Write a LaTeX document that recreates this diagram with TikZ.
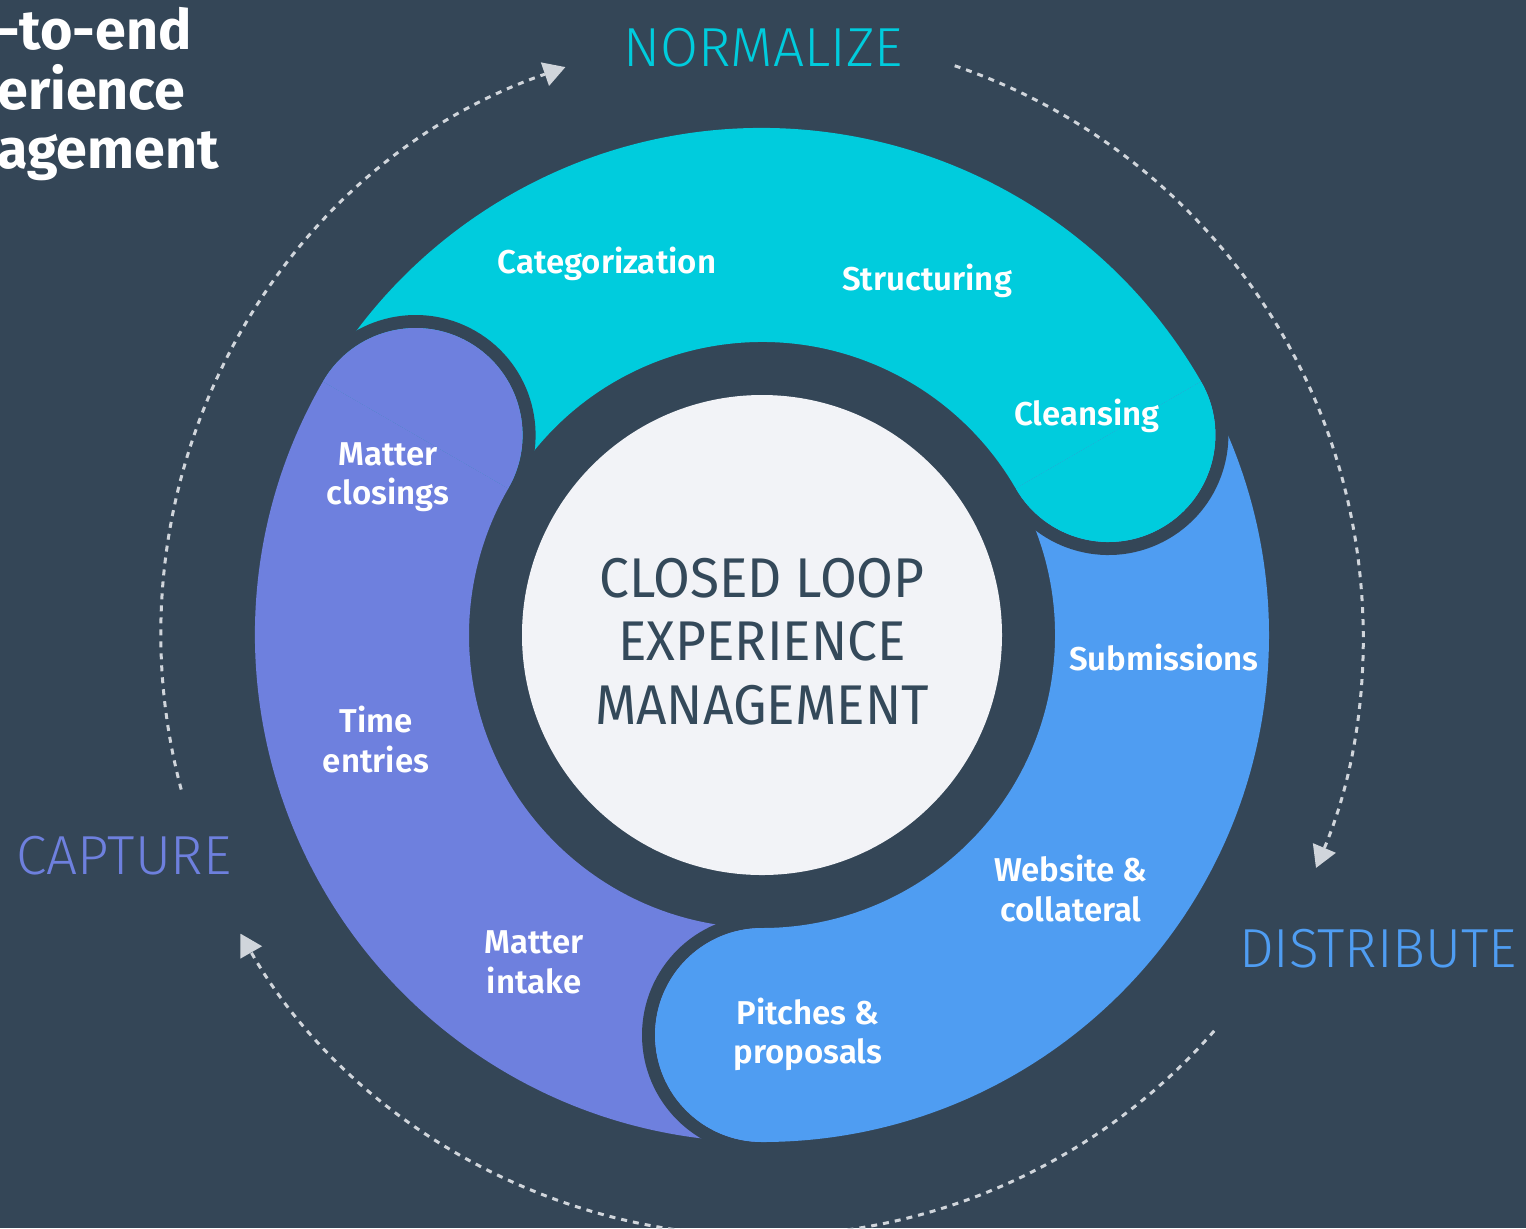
\documentclass[tikz,border=0pt]{standalone}
\usepackage{fontspec}
\setmainfont{Fira Sans}
\newfontfamily\lightf{Fira Sans Light}
\newfontfamily\semif{Fira Sans SemiBold}
\newfontfamily\ctrf{Fira Sans}[FakeStretch=0.95]
\usetikzlibrary{arrows.meta}
\definecolor{bg}{HTML}{344657}
\definecolor{tealc}{HTML}{00CCDD}
\definecolor{purplec}{HTML}{6E80DE}
\definecolor{bluec}{HTML}{4F9DF2}
\definecolor{innerc}{HTML}{F2F3F7}
\definecolor{ctxt}{HTML}{34495A}
\definecolor{dashc}{HTML}{D0D5DB}
\tikzset{
  lbl/.style={text=white, font=\semif\fontsize{16.5}{20}\selectfont, inner sep=0pt, anchor=base},
  stage/.style={font=\lightf\fontsize{27.5}{33}\selectfont, inner sep=0pt, anchor=base},
  ctr/.style={text=ctxt, font=\ctrf\fontsize{28}{34}\selectfont, inner sep=0pt, anchor=base},
  ttl/.style={text=white, font=\bfseries\fontsize{27.8}{34}\selectfont, inner sep=0pt, anchor=base west},
  loop/.style={dashc, line width=1.5pt, dash pattern=on 3pt off 3pt,
    -{Triangle[length=10.8pt,width=12.5pt,line width=0pt]}},
  gap/.style={bg, line width=6.5pt},
}
\begin{document}
\begin{tikzpicture}[x=0.5pt,y=-0.5pt]
\fill[bg] (0,0) rectangle (1526,1228);
\useasboundingbox (0,0) rectangle (1526,1228);
\begin{scope}[shift={(762,635)}, yscale=-1]
  % bands
  \fill[tealc] (30:507) arc[start angle=30,end angle=150,radius=507] -- (150:293) arc[start angle=150,end angle=30,radius=293] -- cycle;
  \fill[purplec] (150:507) arc[start angle=150,end angle=270,radius=507] -- (270:293) arc[start angle=270,end angle=150,radius=293] -- cycle;
  \fill[bluec] (270:507) arc[start angle=270,end angle=390,radius=507] -- (390:293) arc[start angle=390,end angle=270,radius=293] -- cycle;
  % gaps around heads
  \foreach \a in {30,150,270} {
    \draw[gap] (\a:513.5) arc[start angle=\a,end angle=\a-180,radius=113.5];
  }
  % rounded heads
  \fill[tealc] (30:507) arc[start angle=30,end angle=-150,radius=107] -- cycle;
  \fill[purplec] (150:507) arc[start angle=150,end angle=-30,radius=107] -- cycle;
  \fill[bluec] (270:507) arc[start angle=270,end angle=90,radius=107] -- cycle;
  % inner disc
  \fill[innerc] (0,0) circle[radius=240];
  % dashed loop arcs
  \coordinate (l1) at (194.9:601);
  \coordinate (l2) at (71.3:601);
  \coordinate (l3) at (-41.2:601);
  \draw[loop] (l1) arc[start angle=194.9,end angle=109.1,radius=601];
  \draw[loop] (l2) arc[start angle=71.3,end angle=-22.8,radius=601];
  \draw[loop] (l3) arc[start angle=-41.2,end angle=-150.2,radius=601];
\end{scope}
% title (cut off at left edge)
\node[ttl] (t1) at (-3,49) {-to-end};
\node[ttl] (t2) at (-3,109) {erience};
\node[ttl] (t3) at (-3,168) {agement};
% stage labels
\node[stage, text=tealc] (norm) at (763,66) {NORMALIZE};
\node[stage, text=purplec] (capt) at (124,874) {CAPTURE};
\node[stage, text=bluec] (dist) at (1378,967) {DISTRIBUTE};
% center
\node[ctr] (c1) at (762,597) {CLOSED LOOP};
\node[ctr] (c2) at (762,660) {EXPERIENCE};
\node[ctr] (c3) at (762,724) {MANAGEMENT};
% band labels
\node[lbl] (cat) at (607,273) {Categorization};
\node[lbl] (str) at (927,290) {Structuring};
\node[lbl] (cle) at (1087,425) {Cleansing};
\node[lbl] (sub) at (1164,670) {Submissions};
\node[lbl] (web1) at (1071,881) {Website \&};
\node[lbl] (web2) at (1071,921) {collateral};
\node[lbl] (pit1) at (808,1024) {Pitches \&};
\node[lbl] (pit2) at (808,1063) {proposals};
\node[lbl] (mi1) at (534,953) {Matter};
\node[lbl] (mi2) at (534,993) {intake};
\node[lbl] (te1) at (376,732) {Time};
\node[lbl] (te2) at (376,772) {entries};
\node[lbl] (mc1) at (388,465) {Matter};
\node[lbl] (mc2) at (388,504) {closings};
\end{tikzpicture}
\end{document}
